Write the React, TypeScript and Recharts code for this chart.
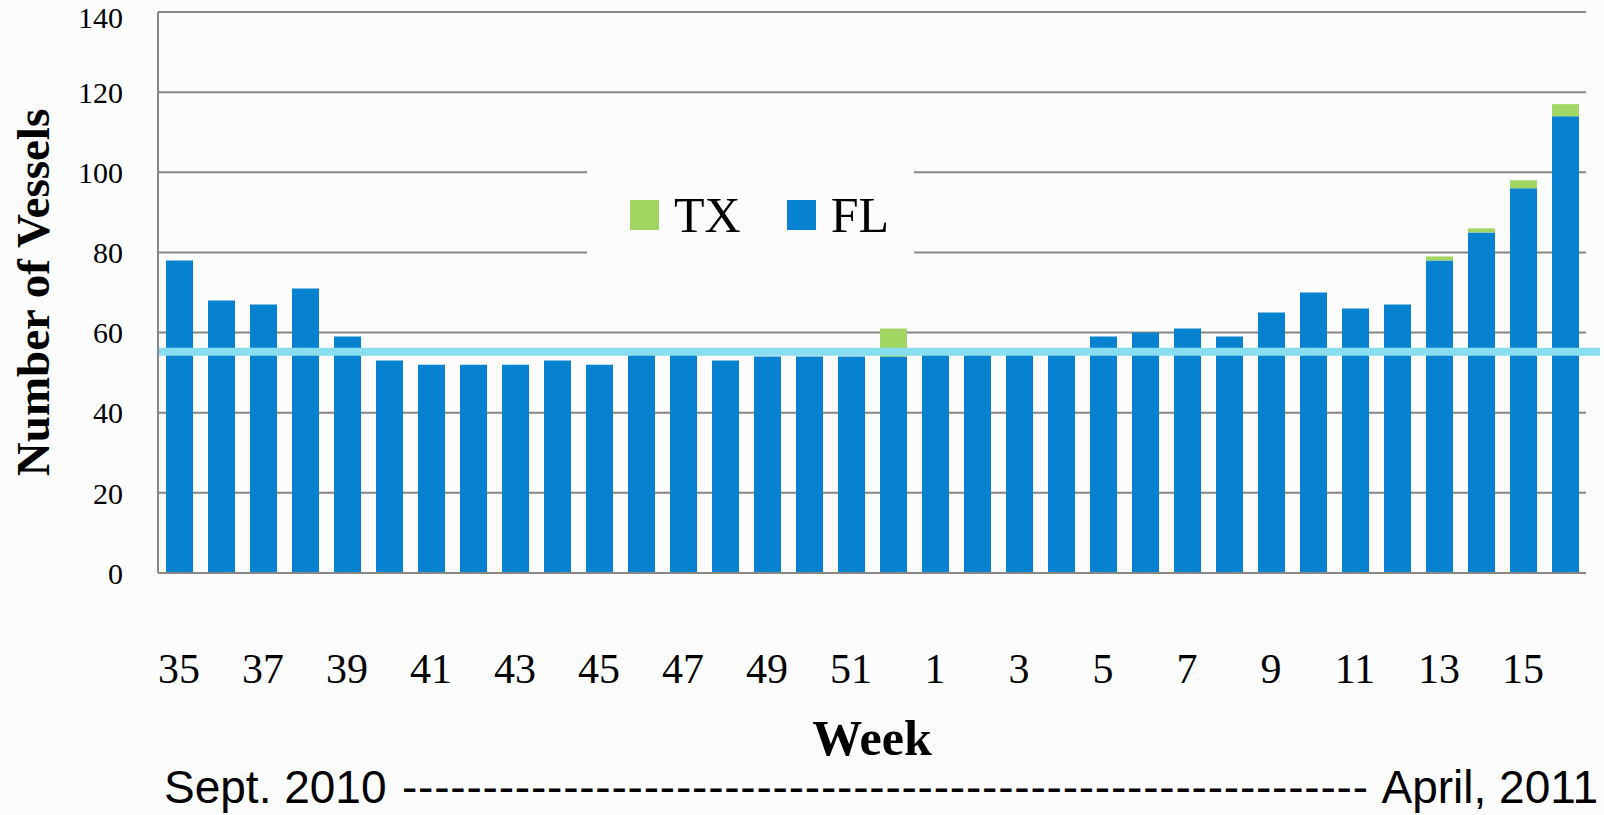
import React from 'react';
import { BarChart, Bar, XAxis, YAxis, CartesianGrid, ReferenceLine, Legend } from 'recharts';

// weeks from Sept. 2010 (wk 35) to April 2011 (wk 16)
const weeks = [
  '35', '36', '37', '38', '39', '40', '41', '42', '43', '44', '45', '46', '47', '48', '49', '50', '51', '52',
  '1', '2', '3', '4', '5', '6', '7', '8', '9', '10', '11', '12', '13', '14', '15', '16',
];

const flVessels = [
  78, 68, 67, 71, 59, 53, 52, 52, 52, 53, 52, 55, 55, 53, 54, 54, 54, 54,
  55, 55, 55, 55, 59, 60, 61, 59, 65, 70, 66, 67, 78, 85, 96, 114,
];

const txVessels = [
  0, 0, 0, 0, 0, 0, 0, 0, 0, 0, 0, 0, 0, 0, 0, 0, 0, 7,
  0, 0, 0, 0, 0, 0, 0, 0, 0, 0, 0, 0, 1, 1, 2, 3,
];

const yTicks = [0, 20, 40, 60, 80, 100, 120, 140];
const baselineLevel = 55.2;

const legendItems = [
  { name: 'TX', color: '#A0D661' },
  { name: 'FL', color: '#0782D0' },
];

const BG = '#FCFCFC';
const SERIF = '"Liberation Serif", "Times New Roman", serif';
const SANS = '"Liberation Sans", Arial, sans-serif';
const GRID = '#878787';

const renderLegend = () => (
  <div
    style={{
      display: 'flex',
      alignItems: 'center',
      height: '100%',
      paddingLeft: 43,
      fontFamily: SERIF,
      fontSize: 50,
      lineHeight: 1,
      color: '#000',
      background: BG,
    }}
  >
    {legendItems.map((item, i) => (
      <div key={item.name} style={{ display: 'flex', alignItems: 'center', marginRight: i === 0 ? 46 : 0 }}>
        <span style={{ display: 'inline-block', width: 29, height: 30, background: item.color, marginRight: 15 }} />
        <span>{item.name}</span>
      </div>
    ))}
  </div>
);

export default function App() {
  const data = weeks.map((w, i) => ({ week: w, FL: flVessels[i], TX: txVessels[i] }));

  return (
    <div style={{ position: 'absolute', left: 0, top: 0, width: 1604, height: 815, background: BG, overflow: 'hidden' }}>
      <BarChart width={1604} height={815} data={data} margin={{ top: 12, right: 18, bottom: 0, left: 0 }} barSize={27}>
        <CartesianGrid vertical={false} stroke={GRID} strokeWidth={2} />
        <XAxis
          dataKey="week"
          interval={1}
          height={242}
          tickLine={false}
          tickSize={0}
          tickMargin={80}
          axisLine={{ stroke: GRID, strokeWidth: 2 }}
          tick={{ fill: '#000', fontSize: 42, fontFamily: SERIF }}
          label={{
            value: 'Week',
            position: 'insideBottom',
            offset: 60,
            style: { fill: '#000', fontSize: 50, fontWeight: 'bold', fontFamily: SERIF },
          }}
        />
        <YAxis
          domain={[0, 140]}
          ticks={yTicks}
          width={158}
          tickLine={false}
          tickSize={0}
          tickMargin={35}
          axisLine={{ stroke: GRID, strokeWidth: 2 }}
          tick={{ fill: '#000', fontSize: 30, fontFamily: SERIF }}
          label={{
            value: 'Number of Vessels',
            angle: -90,
            position: 'insideLeft',
            offset: 32,
            style: { textAnchor: 'middle', fill: '#000', fontSize: 47, fontWeight: 'bold', fontFamily: SERIF },
          }}
        />
        <Legend
          layout="vertical"
          align="center"
          verticalAlign="middle"
          content={renderLegend}
          wrapperStyle={{ left: 587, top: 140, width: 327, height: 150 }}
        />
        <Bar dataKey="FL" stackId="v" fill="#0782D0" isAnimationActive={false} />
        <Bar dataKey="TX" stackId="v" fill="#A0D661" isAnimationActive={false} />
        <ReferenceLine
          y={baselineLevel}
          stroke="#88DDEE"
          strokeWidth={8}
          shape={(p: any) => (
            <line x1={p.x1} y1={p.y1} x2={p.x2 + 14} y2={p.y2} stroke="#88DDEE" strokeWidth={8} />
          )}
        />
      </BarChart>
      <svg width={1604} height={815} style={{ position: 'absolute', left: 0, top: 0, pointerEvents: 'none' }}>
        <text x={164} y={803} fontFamily={SANS} fontSize={46} fill="#000">Sept. 2010</text>
        <text x={402} y={803} fontFamily={SANS} fontSize={46} fill="#000" textLength={966} lengthAdjust="spacing">
          ------------------------------------------------------------
        </text>
        <text x={1598} y={803} fontFamily={SANS} fontSize={46} fill="#000" textAnchor="end">April, 2011</text>
      </svg>
    </div>
  );
}
